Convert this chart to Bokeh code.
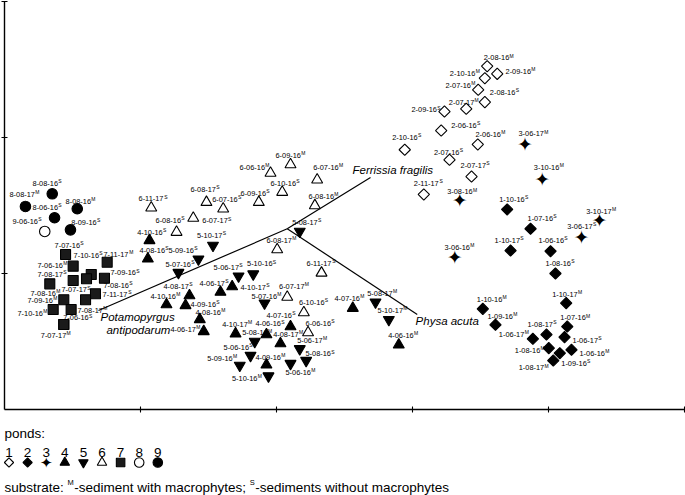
import numpy as np
from bokeh.plotting import figure
from bokeh.models import Range1d, LinearAxis, FixedTicker
from bokeh.core.properties import value
from bokeh.embed import file_html
from bokeh.resources import INLINE

# ---------------- data: samples (pond-month-year), substrate, ordination scores ----------------
sample = [
    # pond 1
    "1-10-16", "1-07-16", "1-10-17", "1-06-16", "1-08-16", "1-10-16", "1-10-17", "1-09-16",
    "1-07-16", "1-08-17", "1-06-17", "1-06-17", "1-08-16", "1-06-16", "1-08-17", "1-09-16",
    # pond 2
    "2-08-16", "2-10-16", "2-09-16", "2-07-16", "2-08-16", "2-07-17", "2-09-16", "2-06-16",
    "2-10-16", "2-06-16", "2-07-16", "2-07-17", "2-11-17",
    # pond 3
    "3-06-17", "3-10-16", "3-08-16", "3-10-17", "3-06-17", "3-06-16",
    # pond 4
    "4-10-16", "4-08-16", "4-06-17", "4-10-17", "4-08-17", "4-10-16", "4-09-16", "4-08-16",
    "4-06-17", "4-10-17", "4-06-16", "4-08-17", "4-07-16", "4-09-16", "4-07-16", "4-06-16",
    # pond 5
    "5-10-17", "5-09-16", "5-07-16", "5-08-17", "5-06-17", "5-10-16", "5-07-16", "5-08-16",
    "5-06-16", "5-09-16", "5-10-16", "5-06-17", "5-08-16", "5-06-16", "5-08-17", "5-10-17",
    # pond 6
    "6-11-17", "6-08-17", "6-07-16", "6-09-16", "6-08-16", "6-07-17", "6-09-16", "6-06-16",
    "6-07-16", "6-10-16", "6-08-16", "6-08-17", "6-11-17", "6-07-17", "6-10-16", "6-06-16",
    # pond 7
    "7-07-16", "7-11-17", "7-06-16", "7-10-16", "7-09-16", "7-07-17", "7-08-17", "7-08-16",
    "7-08-16", "7-11-17", "7-09-16", "7-10-16", "7-08-17", "7-06-16", "7-07-17",
    # pond 8
    "8-08-16", "8-08-17", "8-06-16", "8-08-16", "8-09-16",
    # pond 9
    "9-06-16",
]

substrate = (
    list("SSSSSMMMMSMSMMMS")
    + list("MMMMSMSSSMSSS")
    + list("MMMMSM")
    + list("SSSSSMSMMMSMSMMM")
    + list("SSSSSSMMSMMMSMMM")
    + list("SSSSSSMMMSMMSMSS")
    + list("SMMSSSSMSSMMMSM")
    + list("SMSMS")
    + list("S")
)

axis1 = [
    3.696, 3.868, 3.721, 4.015, 4.051, 3.517, 4.130, 3.610, 4.138, 3.985, 3.885, 4.118, 4.002, 4.169, 4.035, 4.083,
    3.549, 3.532, 3.623, 3.483, 3.532, 3.395, 3.235, 3.211, 2.943, 3.480, 3.272, 3.434, 3.083,
    3.827, 3.954, 3.347, 4.375, 4.243, 3.311,
    1.066, 1.054, 1.588, 1.674, 1.360, 1.191, 1.331, 1.436, 1.465, 1.699, 1.926, 2.029, 2.103, 1.926, 2.561, 2.899,
    1.533, 1.426, 1.279, 2.171, 1.721, 1.829, 1.912, 1.840, 1.809, 1.730, 1.941, 2.171, 2.218, 2.103, 2.728, 2.826,
    1.079, 1.485, 1.608, 1.870, 1.265, 1.388, 2.103, 1.956, 2.299, 2.042, 2.282, 2.005, 2.331, 2.079, 2.201, 2.232,
    0.449, 0.755, 0.505, 0.638, 0.735, 0.603, 0.505, 0.333, 0.669, 0.596, 0.436, 0.358, 0.490, 0.436, 0.436,
    0.351, 0.154, 0.368, 0.535, 0.485,
    0.296,
]

axis2 = [
    1.471, 1.329, 1.169, 1.164, 1.000, 0.740, 0.782, 0.623, 0.610, 0.551, 0.520, 0.532, 0.451, 0.439, 0.360, 0.414,
    2.524, 2.436, 2.468, 2.351, 2.260, 2.211, 2.191, 2.051, 1.910, 1.949, 1.836, 1.713, 1.581,
    1.952, 1.696, 1.537, 1.390, 1.272, 1.120,
    1.243, 1.108, 0.863, 0.904, 0.838, 0.772, 0.765, 0.662, 0.574, 0.557, 0.551, 0.485, 0.610, 0.329, 0.745, 0.476,
    1.206, 1.105, 1.007, 1.309, 0.980, 0.996, 0.782, 0.500, 0.397, 0.324, 0.246, 0.446, 0.360, 0.338, 0.789, 0.660,
    1.483, 1.524, 1.476, 1.524, 1.304, 1.407, 1.801, 1.738, 1.689, 1.598, 1.500, 1.176, 1.004, 0.827, 0.713, 0.566,
    1.140, 1.083, 1.054, 0.993, 0.965, 0.961, 0.949, 0.924, 0.851, 0.807, 0.807, 0.735, 0.735, 0.625, 0.625,
    1.586, 1.493, 1.410, 1.476, 1.321,
    1.309,
]

# species vectors (biplot)
species = ["Ferrissia fragilis", "Potamopyrgus antipodarum", "Physa acuta"]
species_x = [2.691, 0.691, 3.035]
species_y = [1.706, 0.728, 0.699]
origin_x, origin_y = 2.079, 1.329

legend_ponds = [1, 2, 3, 4, 5, 6, 7, 8, 9]

# ---------------- layout (label placement offsets, screen px; +dy = down) ----------------
label_dx = [
    -8, -3, -16, -12, -10, -6, -14, -8, -7, -19, -34, 8, -34, 8, -34.5, 1.5,
    -3.4, -35, 8.3, -32.7, 5, -17.4, -33, 10, -12.6, -2.3, -15.5, -11, -10,
    -6.5, -8.4, -12.5, -13.3, -14.3, -10.3,
    -12.3, -8.3, -21, 8.3, -26, -16, 5, -4.3, -33.3, -13.3, -11, -7.3, -24, -11, -18.3, -10.6,
    -16, -30, -13, -7.6, -25, -6.2, -13, -12.6, -27, -32.6, -36.5, -2.6, -0.7, -5, -8.3, -11.3,
    -12.7, -16, -11, -18.3, -21, 9, -15, -31, -4, -11.7, -6.3, -10.7, -15, -8.2, -4.8, -2.5,
    -11, -3.7, -35.7, -17.7, 6, -25, -35.7, -19.3, 8, 17, -36.3, -35.7, 6.3, -0.6, -23,
    -19.7, -16, -22, -11.7, 0.7,
    -32.3,
]
label_dy = [
    -10, -10.5, -10, -10.5, -10.3, -9.3, -8.7, -8.3, -8.7, -10, -4.3, 3.3, 2.3, 3.4, 7.3, 10,
    -8.4, -5, -2.6, -4.3, -10, -6.6, -1.7, -5, -12.6, -9.7, -7.6, -11.5, -11.3,
    -10.2, -11.3, -8.5, -9, -10.3, -10,
    -8.3, -8.3, -9, 1, -9.5, -8, -0.7, -7.3, -2, -9.3, -10.7, -9, -11, -7.6, -9.4, -9.3,
    -10, -8.7, -8.3, -9.3, -9, -10.2, -6.7, -8.7, -8.3, -6.7, 2.5, -8.3, -6.7, 8.7, -8.4, -9.3,
    -9, -12.5, -9.3, -9.2, -11.7, 2.8, -9, -6, -12, -9, -9, -9, -9.5, -10.5, -10.3, -9.3,
    -9, -7.7, -0.7, -19, -5.4, 11, -5.7, 9.4, -8.3, -5, 0.7, 3.7, 1, -6.7, 11,
    -10.3, -12, -10.6, -7.6, -7.6,
    -10.3,
]
species_label_offsets = [[(-18, -7)], [(2, 7), (8, 20)], [(-1.7, 7)]]

# ---------------- figure ----------------
W, H = 685, 495
X0, X1 = -4 / 136, 681 / 136
Y0, Y1 = -86 / 136, 409 / 136
PX = W / (X1 - X0)
PY = H / (Y1 - Y0)

p = figure(width=W, height=H, x_range=Range1d(X0, X1), y_range=Range1d(Y0, Y1),
           x_axis_type=None, y_axis_type=None, toolbar_location=None,
           output_backend="svg", min_border=0, outline_line_color=None,
           background_fill_color="white", border_fill_color="white")

FONT = value("Liberation Sans")
AW = {c: 556 for c in "0123456789abdeghnopqu"}
AW.update({"-": 333, " ": 278, ":": 278, ";": 278, "c": 500, "f": 278, "i": 222, "j": 222,
           "k": 500, "l": 222, "m": 833, "r": 333, "s": 500, "t": 278, "v": 500, "w": 722,
           "x": 500, "y": 500, "z": 500, "M": 833, "S": 667})


def tw(s, size):
    return sum(AW.get(c, 556) for c in s) * size / 1000.0


def dx_(px):
    return px / PX


def dy_(py):
    return -py / PY


def sx(px):
    return X0 + px / PX


def sy(py):
    return Y1 - py / PY


# axes
xaxis = LinearAxis(fixed_location=0, bounds=(0, 5.0), ticker=FixedTicker(ticks=[1, 2, 3, 4, 5], minor_ticks=[]),
                   major_label_text_color=None, major_label_text_font_size="1px",
                   major_tick_in=3, major_tick_out=3, axis_line_width=1.4, major_tick_line_width=1.1)
yaxis = LinearAxis(fixed_location=0, bounds=(0, 3.0), ticker=FixedTicker(ticks=[1, 2, 3], minor_ticks=[]),
                   major_label_text_color=None, major_label_text_font_size="1px",
                   major_tick_in=3, major_tick_out=3, axis_line_width=1.4, major_tick_line_width=1.1)
p.add_layout(xaxis, "below")
p.add_layout(yaxis, "left")

# species vectors
p.segment(x0=[origin_x] * len(species), y0=[origin_y] * len(species), x1=species_x, y1=species_y,
          line_color="black", line_width=1.2)
for name, ex, ey, offs in zip(species, species_x, species_y, species_label_offsets):
    parts = [name] if len(offs) == 1 else name.split(" ")
    for part, (ox, oy) in zip(parts, offs):
        p.text(x=[ex + dx_(ox)], y=[ey + dy_(oy)], text=[part], text_font=FONT,
               text_font_size="11.5px", text_font_style="italic", text_align="left",
               text_baseline="middle", text_color="black")

# sample labels
LAB = 7.4
SUP = 5.0
lx = [x + dx_(a) for x, a in zip(axis1, label_dx)]
ly = [y + dy_(b) for y, b in zip(axis2, label_dy)]
supx = [x + dx_(tw(s, LAB) + 0.3) for x, s in zip(lx, sample)]
supy = [y + dy_(-2.3) for y in ly]
p.text(x=lx, y=ly, text=sample, text_font=FONT, text_font_size=f"{LAB}px",
       text_align="left", text_baseline="middle", text_color="black")
p.text(x=supx, y=supy, text=substrate, text_font=FONT, text_font_size=f"{SUP}px",
       text_align="left", text_baseline="middle", text_color="black")

# markers (as drawn in the plot)
pond = [int(s.split("-")[0]) for s in sample]
plot_style = {
    1: dict(marker="square", angle=np.pi / 4, size=8, fill_color="black"),
    2: dict(marker="square", angle=np.pi / 4, size=8, fill_color="white"),
    3: None,
    4: dict(marker="triangle", angle=0, size=11, fill_color="black"),
    5: dict(marker="inverted_triangle", angle=0, size=11, fill_color="black"),
    6: dict(marker="triangle", angle=0, size=11, fill_color="white"),
    7: dict(marker="square", angle=0, size=10, fill_color="#1a1a1a"),
    8: dict(marker="circle", angle=0, size=10.5, fill_color="black"),
    9: dict(marker="circle", angle=0, size=10.5, fill_color="white"),
}
for k, st in plot_style.items():
    xs = [x for x, q in zip(axis1, pond) if q == k]
    ys = [y for y, q in zip(axis2, pond) if q == k]
    if st is None:
        p.text(x=xs, y=ys, text=["\u2726"] * len(xs), text_font=value("DejaVu Sans"),
               text_font_size="19px", text_align="center", text_baseline="middle", text_color="black")
    else:
        p.scatter(x=xs, y=ys, marker=st["marker"], angle=st["angle"], size=st["size"],
                  fill_color=st["fill_color"], line_color="black", line_width=1.1)

# ---------------- key below the plot ----------------
legend_style = {
    1: dict(marker="square", angle=np.pi / 4, size=6.5, fill_color="white"),
    2: dict(marker="square", angle=np.pi / 4, size=6.5, fill_color="black"),
    3: None,
    4: dict(marker="triangle", angle=0, size=9.5, fill_color="black"),
    5: dict(marker="inverted_triangle", angle=0, size=9.5, fill_color="black"),
    6: dict(marker="triangle", angle=0, size=9.5, fill_color="white"),
    7: dict(marker="square", angle=0, size=8.5, fill_color="#1a1a1a"),
    8: dict(marker="circle", angle=0, size=9.5, fill_color="white"),
    9: dict(marker="circle", angle=0, size=9.5, fill_color="black"),
}
KEY = 13.5
p.text(x=[sx(4)], y=[sy(433)], text=["ponds:"], text_font=FONT, text_font_size=f"{KEY}px",
       text_align="left", text_baseline="alphabetic", text_color="black")
kx = [sx(8.5 + 18.6 * i) for i in range(len(legend_ponds))]
p.text(x=kx, y=[sy(452)] * len(kx), text=[str(k) for k in legend_ponds], text_font=FONT,
       text_font_size=f"{KEY}px", text_align="center", text_baseline="alphabetic", text_color="black")
for xk, k in zip(kx, legend_ponds):
    st = legend_style[k]
    if st is None:
        p.text(x=[xk], y=[sy(462)], text=["\u2726"], text_font=value("DejaVu Sans"),
               text_font_size="15px", text_align="center", text_baseline="middle", text_color="black")
    else:
        p.scatter(x=[xk], y=[sy(462)], marker=st["marker"], angle=st["angle"], size=st["size"],
                  fill_color=st["fill_color"], line_color="black", line_width=1.1)

# substrate note with superscripts
pieces = [("substrate: ", False), ("M", True), ("-sediment with macrophytes; ", False), ("S", True),
          ("-sediments without macrophytes", False)]
cur = 4.0
for txt, sup in pieces:
    fs = 7.5 if sup else KEY
    yb = 482.0 if sup else 487.0
    p.text(x=[sx(cur)], y=[sy(yb)], text=[txt], text_font=FONT, text_font_size=f"{fs}px",
           text_align="left", text_baseline="alphabetic", text_color="black")
    cur += tw(txt, fs) + (0.5 if sup else 0)

open("out.html", "w").write(file_html(p, INLINE))
